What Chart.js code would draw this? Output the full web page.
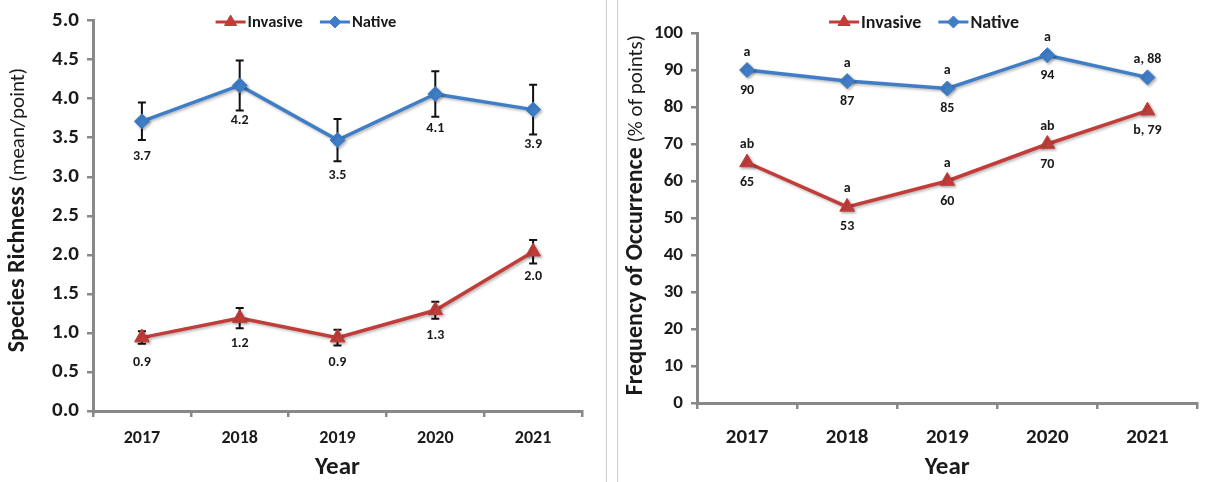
<!DOCTYPE html>
<html><head><meta charset="utf-8">
<script src="https://cdn.jsdelivr.net/npm/chart.js@4/dist/chart.umd.min.js"></script>
<style>
html,body{margin:0;padding:0;background:#fff;}
#wrap{position:relative;width:1207px;height:482px;overflow:hidden;background:#fff;}
canvas{position:absolute;top:0;}
#c1{left:0;}
#c2{left:618px;}
.sep{position:absolute;top:0;height:482px;width:1px;background:#cdcdcd;}
</style></head>
<body><div id="wrap">
<div class="sep" style="left:606px"></div><div class="sep" style="left:617px"></div>
<canvas id="c1" width="605" height="482" style="width:605px;height:482px"></canvas>
<canvas id="c2" width="589" height="482" style="width:589px;height:482px"></canvas>
</div>
<script>
// ---------- data ----------
const years = ['2017', '2018', '2019', '2020', '2021'];
const seriesNames = ['Invasive', 'Native'];

// Species richness (mean/point) with error bars (+/-)
const richInvasive = [0.94, 1.19, 0.94, 1.29, 2.04];
const richInvasiveErr = [0.08, 0.13, 0.10, 0.11, 0.15];
const richNative = [3.71, 4.17, 3.47, 4.06, 3.86];
const richNativeErr = [0.24, 0.32, 0.27, 0.29, 0.32];
const richTickLabels = ['0.0', '0.5', '1.0', '1.5', '2.0', '2.5', '3.0', '3.5', '4.0', '4.5', '5.0'];

// Frequency of occurrence (% of points)
const freqInvasive = [65, 53, 60, 70, 79];
const freqNative = [90, 87, 85, 94, 88];
const freqTickLabels = ['0', '10', '20', '30', '40', '50', '60', '70', '80', '90', '100'];
const freqInvasiveAbove = ['ab', 'a', 'a', 'ab', ''];
const freqInvasiveBelow = ['65', '53', '60', '70', 'b, 79'];
const freqNativeAbove = ['a', 'a', 'a', 'a', 'a, 88'];
const freqNativeBelow = ['90', '87', '85', '94', ''];

// ---------- styles ----------
const FONT = "Carlito, Lato, 'Liberation Sans', sans-serif";
const RED = '#c23d39', BLUE = '#3f7ec7', AX = '#888888', TXT = '#1a1a1a';

function drawMarker(ctx, style, x, y, r, color) {
  ctx.fillStyle = color; ctx.strokeStyle = color; ctx.lineWidth = 1;
  ctx.beginPath();
  if (style === 'triangle') {
    ctx.moveTo(x, y - r); ctx.lineTo(x + 0.866 * r, y + 0.5 * r); ctx.lineTo(x - 0.866 * r, y + 0.5 * r);
  } else {
    ctx.moveTo(x, y - r); ctx.lineTo(x + r, y); ctx.lineTo(x, y + r); ctx.lineTo(x - r, y);
  }
  ctx.closePath(); ctx.fill(); ctx.stroke();
}

const shadowPlugin = {
  id: 'lineShadow',
  beforeDatasetDraw(chart) {
    const ctx = chart.ctx; ctx.save();
    ctx.shadowColor = 'rgba(0,0,0,0.30)'; ctx.shadowBlur = 3; ctx.shadowOffsetX = 1.5; ctx.shadowOffsetY = 1.5;
  },
  afterDatasetDraw(chart) { chart.ctx.restore(); }
};

const errorPlugin = {
  id: 'errorBars',
  beforeDatasetsDraw(chart) {
    const ctx = chart.ctx, ys = chart.scales.y;
    ctx.save(); ctx.strokeStyle = '#111'; ctx.lineWidth = 2;
    chart.data.datasets.forEach((ds, di) => {
      if (!ds.errors) return;
      const meta = chart.getDatasetMeta(di);
      meta.data.forEach((pt, i) => {
        const v = ds.data[i], e = ds.errors[i];
        const yt = ys.getPixelForValue(v + e), yb = ys.getPixelForValue(v - e);
        ctx.beginPath();
        ctx.moveTo(pt.x, yt); ctx.lineTo(pt.x, yb);
        ctx.moveTo(pt.x - 4, yt); ctx.lineTo(pt.x + 4, yt);
        ctx.moveTo(pt.x - 4, yb); ctx.lineTo(pt.x + 4, yb);
        ctx.stroke();
      });
    });
    ctx.restore();
  }
};

function labelPlugin(cfg) {
  return {
    id: 'pointLabels',
    afterDatasetsDraw(chart) {
      const ctx = chart.ctx;
      ctx.save(); ctx.fillStyle = TXT; ctx.textAlign = 'center'; ctx.textBaseline = 'middle';
      ctx.font = cfg.font;
      chart.data.datasets.forEach((ds, di) => {
        const meta = chart.getDatasetMeta(di);
        meta.data.forEach((pt, i) => {
          if (ds.above && ds.above[i]) ctx.fillText(ds.above[i], pt.x, pt.y - ds.aboveOff);
          if (ds.below && ds.below[i]) ctx.fillText(ds.below[i], pt.x, pt.y + ds.belowOff);
        });
      });
      ctx.restore();
    }
  };
}

function legendPlugin(cfg) {
  return {
    id: 'lineLegend',
    afterDraw(chart) {
      const ctx = chart.ctx; ctx.save();
      ctx.font = cfg.font; ctx.textBaseline = 'middle'; ctx.textAlign = 'left';
      const icon = 30, gapText = 2, gapItem = 17;
      const items = chart.data.datasets.map(ds => ({ ds, w: ctx.measureText(ds.label).width }));
      let total = 0;
      items.forEach((it, k) => { total += icon + gapText + it.w + (k < items.length - 1 ? gapItem : 0); });
      let x = cfg.cx - total / 2;
      items.forEach(it => {
        ctx.strokeStyle = it.ds.borderColor; ctx.lineWidth = 3;
        ctx.beginPath(); ctx.moveTo(x, cfg.cy); ctx.lineTo(x + icon, cfg.cy); ctx.stroke();
        drawMarker(ctx, it.ds.pointStyle, x + icon / 2, cfg.cy, it.ds.pointStyle === 'triangle' ? 7 : 6, it.ds.borderColor);
        ctx.fillStyle = TXT;
        ctx.fillText(it.ds.label, x + icon + gapText, cfg.cy + 1);
        x += icon + gapText + it.w + gapItem;
      });
      ctx.restore();
    }
  };
}

function titlePlugin(cfg) {
  return {
    id: 'axisTitles',
    afterDraw(chart) {
      const ctx = chart.ctx, ca = chart.chartArea; ctx.save();
      ctx.fillStyle = TXT; ctx.textBaseline = 'middle'; ctx.textAlign = 'left';
      let total = 0;
      cfg.yParts.forEach(p => { ctx.font = p[1]; total += ctx.measureText(p[0]).width; });
      ctx.translate(cfg.yx, cfg.yy); ctx.rotate(-Math.PI / 2);
      let x = -total / 2;
      cfg.yParts.forEach(p => { ctx.font = p[1]; ctx.fillText(p[0], x, p[2] || 0); x += ctx.measureText(p[0]).width; });
      ctx.setTransform(1, 0, 0, 1, 0, 0);
      ctx.font = cfg.xFont; ctx.textAlign = 'center'; ctx.textBaseline = 'alphabetic';
      ctx.fillText(cfg.xText, (ca.left + ca.right) / 2, cfg.xBase);
      ctx.restore();
    }
  };
}

function makeOptions(c) {
  return {
    responsive: false, animation: false, maintainAspectRatio: false,
    layout: { padding: { top: c.top, right: c.right, left: 0, bottom: 0 } },
    plugins: { legend: { display: false }, tooltip: { enabled: false } },
    scales: {
      x: {
        offset: true,
        grid: { offset: true, drawOnChartArea: false, tickLength: 6, color: AX, lineWidth: 2.5 },
        border: { color: AX, width: 3 },
        ticks: { color: TXT, font: { family: FONT, size: c.xFont, weight: 'bold' }, padding: c.xPad, maxRotation: 0 },
        afterFit: s => { s.height = c.xH; }
      },
      y: {
        min: c.min, max: c.max,
        grid: { drawOnChartArea: false, tickLength: 6, color: AX, lineWidth: 2.5 },
        border: { color: AX, width: 3 },
        ticks: { stepSize: c.step, color: TXT, font: { family: FONT, size: c.yFont, weight: 'bold' }, padding: 8,
                 callback: (v, i) => c.tickLabels[i] },
        afterFit: s => { s.width = c.yW; }
      }
    }
  };
}

function lineDs(label, data, color, style, r, extra) {
  return Object.assign({
    label, data, borderColor: color, backgroundColor: color, borderWidth: 3.5,
    pointStyle: style, pointRadius: r, pointBorderWidth: 1, pointBackgroundColor: color, pointBorderColor: color,
    tension: 0, clip: false
  }, extra);
}

// ---------- chart 1 : species richness ----------
new Chart(document.getElementById('c1'), {
  type: 'line',
  data: {
    labels: years,
    datasets: [
      lineDs(seriesNames[0], richInvasive, RED, 'triangle', 8.5,
        { errors: richInvasiveErr, below: richInvasive.map(v => v.toFixed(1)), belowOff: 25 }),
      lineDs(seriesNames[1], richNative, BLUE, 'rectRot', 7.5,
        { errors: richNativeErr, below: richNative.map(v => v.toFixed(1)), belowOff: 35 })
    ]
  },
  options: makeOptions({ top: 16, right: 23, min: 0, max: 5, step: 0.5, tickLabels: richTickLabels,
    xFont: 18, yFont: 21, xPad: 11, xH: 71, yW: 93 }),
  plugins: [shadowPlugin, errorPlugin, labelPlugin({ font: 'bold 14px ' + FONT }),
    legendPlugin({ cx: 306, cy: 22, font: 'bold 16.5px ' + FONT }),
    titlePlugin({ yParts: [['Species Richness', 'bold 24px ' + FONT], [' (mean/point)', '21px ' + FONT, 1]],
      yx: 18, yy: 210, xText: 'Year', xFont: 'bold 25px ' + FONT, xBase: 474 })]
});

// ---------- chart 2 : frequency of occurrence ----------
new Chart(document.getElementById('c2'), {
  type: 'line',
  data: {
    labels: years,
    datasets: [
      lineDs(seriesNames[0], freqInvasive, RED, 'triangle', 8.5,
        { above: freqInvasiveAbove, below: freqInvasiveBelow, aboveOff: 18, belowOff: 20 }),
      lineDs(seriesNames[1], freqNative, BLUE, 'rectRot', 7.5,
        { above: freqNativeAbove, below: freqNativeBelow, aboveOff: 18, belowOff: 20 })
    ]
  },
  options: makeOptions({ top: 33, right: 1, min: 0, max: 100, step: 10, tickLabels: freqTickLabels,
    xFont: 21, yFont: 19, xPad: 16, xH: 79, yW: 79 }),
  plugins: [shadowPlugin, labelPlugin({ font: 'bold 14px ' + FONT }),
    legendPlugin({ cx: 306, cy: 22, font: 'bold 18px ' + FONT }),
    titlePlugin({ yParts: [['Frequency of Occurrence', 'bold 24px ' + FONT], [' (% of points)', '21px ' + FONT, 1]],
      yx: 18, yy: 215, xText: 'Year', xFont: 'bold 25px ' + FONT, xBase: 474 })]
});
</script>
</body></html>
